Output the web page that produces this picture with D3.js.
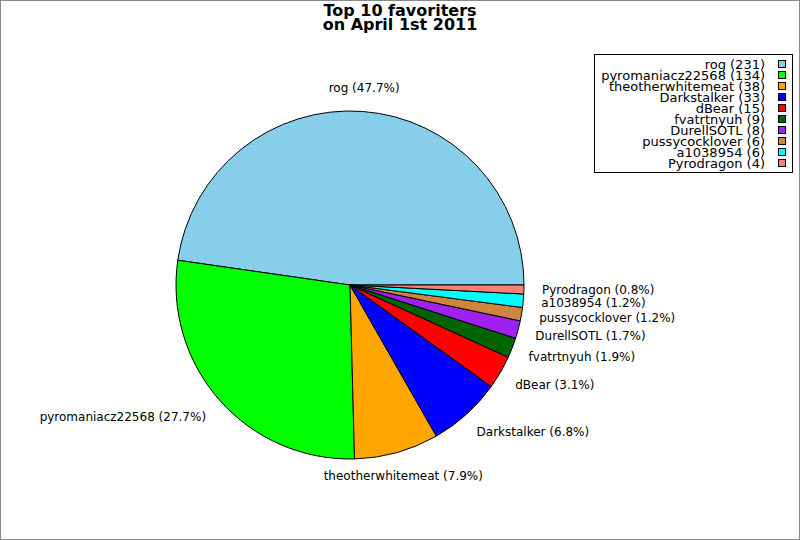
<!DOCTYPE html>
<html>
<head>
<meta charset="utf-8">
<script src="https://cdn.jsdelivr.net/npm/d3@7"></script>
<style>
  body { margin: 0; background: #fff; }
  text { font-family: "DejaVu Sans", sans-serif; fill: #000; }
</style>
</head>
<body>
<svg id="chart" width="800" height="540"></svg>
<script>
// top 10 favoriters, counts
var names = ["rog", "pyromaniacz22568", "theotherwhitemeat", "Darkstalker", "dBear",
             "fvatrtnyuh", "DurellSOTL", "pussycocklover", "a1038954", "Pyrodragon"]
var counts = [231, 134, 38, 33, 15, 9, 8, 6, 6, 4]
var colors = ["#87CEEB", "#00FF00", "#FFA500", "#0000FF", "#FF0000",
              "#006400", "#A020F0", "#CD853F", "#00FFFF", "#FA8072"]
var title_lines = ["Top 10 favoriters", "on April 1st 2011"]

var svg = d3.select("#chart")
var cx = 350, cy = 285, radius = 174, label_radius = 198

var total = d3.sum(counts)
var data = names.map(function(n, i){ return {name: n, value: counts[i], color: colors[i]} })

// outer grey border
svg.append("rect")
  .attr("x", 0.5).attr("y", 0.5)
  .attr("width", 799).attr("height", 539)
  .attr("fill", "#fff")
  .attr("stroke", "#888")

// title
svg.append("g").selectAll("text")
  .data(title_lines)
  .enter().append("text")
    .attr("x", 400)
    .attr("y", function(d, i){ return 16 + i * 14 })
    .attr("text-anchor", "middle")
    .attr("font-size", 16)
    .attr("font-weight", "bold")
    .text(function(d){ return d })

// pie goes counterclockwise starting at 3 o'clock
var pie = d3.pie()
  .sort(null)
  .value(function(d){ return d.value })
  .startAngle(Math.PI / 2)
  .endAngle(Math.PI / 2 - 2 * Math.PI)

var arc = d3.arc().innerRadius(0).outerRadius(radius)
var label_arc = d3.arc().innerRadius(label_radius).outerRadius(label_radius)

var arcs = pie(data)

var g = svg.append("g").attr("transform", "translate(" + cx + "," + cy + ")")

g.selectAll("path")
  .data(arcs)
  .enter().append("path")
    .attr("d", arc)
    .attr("fill", function(d){ return d.data.color })
    .attr("stroke", "#000")
    .attr("stroke-width", 1)

g.selectAll("text")
  .data(arcs)
  .enter().append("text")
    .attr("font-size", 12)
    .attr("dy", "0.35em")
    .each(function(d){
      var c = label_arc.centroid(d)
      var dx = c[0] / label_radius
      var anchor = "middle", x = c[0]
      if (dx > 0.35) { anchor = "start"; x = c[0] - 6 }
      else if (dx < -0.35) { anchor = "end"; x = c[0] + 4 }
      d3.select(this)
        .attr("x", x)
        .attr("y", c[1])
        .attr("text-anchor", anchor)
    })
    .text(function(d){
      return d.data.name + " (" + (100 * d.data.value / total).toFixed(1) + "%)"
    })

// legend
var legend = svg.append("g")
legend.append("rect")
  .attr("x", 594.5).attr("y", 54.5)
  .attr("width", 198).attr("height", 118)
  .attr("fill", "#fff")
  .attr("stroke", "#000")

var rows = legend.selectAll("g.row")
  .data(data)
  .enter().append("g")
    .attr("class", "row")
    .attr("transform", function(d, i){ return "translate(0," + (64 + i * 11) + ")" })

rows.append("text")
  .attr("x", 765)
  .attr("dy", "0.35em")
  .attr("text-anchor", "end")
  .attr("font-size", 13)
  .text(function(d){ return d.name + " (" + d.value + ")" })

rows.append("rect")
  .attr("x", 778.5).attr("y", -3.5)
  .attr("width", 7).attr("height", 7)
  .attr("fill", function(d){ return d.color })
  .attr("stroke", "#000")
</script>
</body>
</html>
